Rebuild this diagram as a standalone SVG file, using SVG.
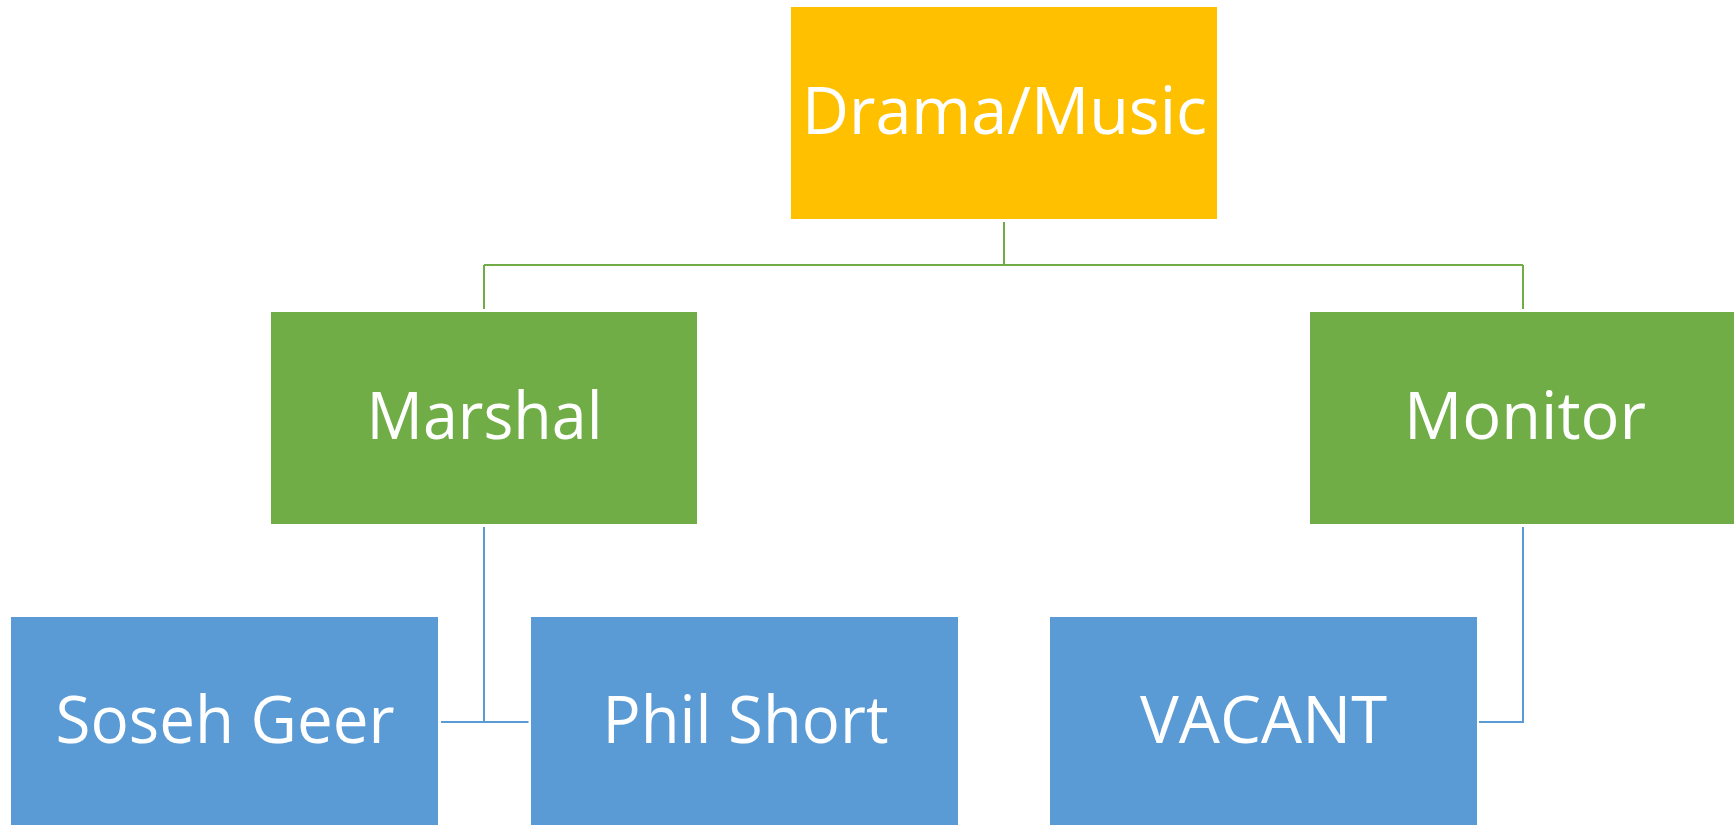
<svg xmlns="http://www.w3.org/2000/svg" width="1734" height="825" viewBox="0 0 1734 825">
<style>
.lbl{font-family:"Open Sans","Noto Sans","Liberation Sans",sans-serif;font-size:66px;fill:#fff;text-anchor:middle}
.g{fill:#70AD47}
.b{fill:#5B9BD5}
.cg{stroke:#70AD47;stroke-width:2;fill:none}
.cb{stroke:#5B9BD5;stroke-width:2;fill:none}
</style>
<rect width="1734" height="825" fill="#fff"/>
<g id="connectors">
<path class="cg" d="M1004 222V265M484 265H1523M484 265V309M1523 265V309"/>
<path class="cb" d="M484 527V722M441 722H528.5"/>
<path class="cb" d="M1523 527V722H1479"/>
</g>
<g id="drama-music">
<rect x="791" y="7" width="426" height="212" fill="#FFC000"/>
<text class="lbl" x="1004.5" y="134" textLength="405" lengthAdjust="spacingAndGlyphs">Drama/Music</text>
</g>
<g id="marshal">
<rect class="g" x="271" y="312" width="426" height="212"/>
<text class="lbl" x="484.5" y="439" textLength="236" lengthAdjust="spacingAndGlyphs">Marshal</text>
</g>
<g id="monitor">
<rect class="g" x="1310" y="312" width="426" height="212"/>
<text class="lbl" x="1525" y="439" textLength="242" lengthAdjust="spacingAndGlyphs">Monitor</text>
</g>
<g id="soseh-geer">
<rect class="b" x="11" y="617" width="427" height="212"/>
<text class="lbl" x="225" y="743" textLength="339" lengthAdjust="spacingAndGlyphs">Soseh Geer</text>
</g>
<g id="phil-short">
<rect class="b" x="531" y="617" width="427" height="212"/>
<text class="lbl" x="745.5" y="743" textLength="286" lengthAdjust="spacingAndGlyphs">Phil Short</text>
</g>
<g id="vacant">
<rect class="b" x="1050" y="617" width="427" height="212"/>
<text class="lbl" x="1263.5" y="743" textLength="247" lengthAdjust="spacingAndGlyphs">VACANT</text>
</g>
</svg>
